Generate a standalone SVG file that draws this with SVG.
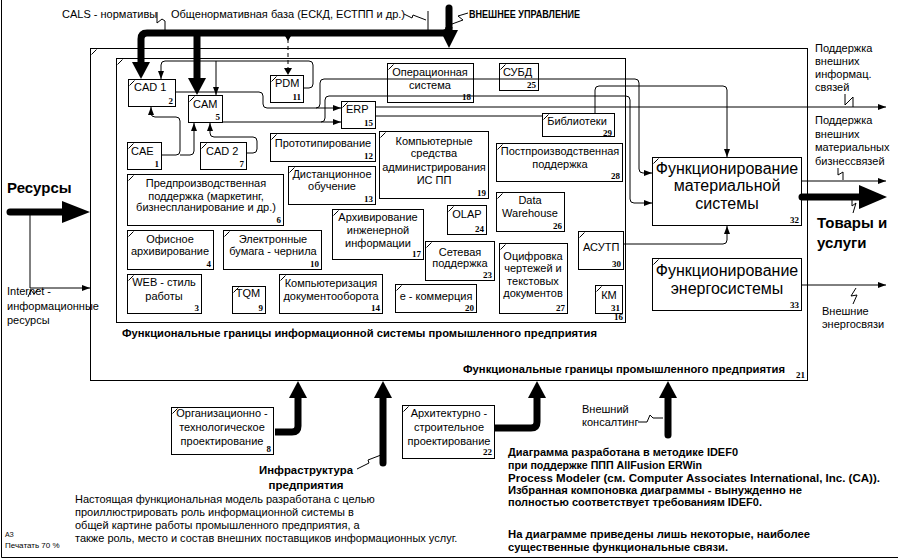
<svg xmlns="http://www.w3.org/2000/svg" width="898" height="559" viewBox="0 0 898 559">
<defs>
<style>
.b{fill:none;stroke:#000;stroke-width:1}
.k{fill:none;stroke:#000;stroke-width:1}
.t{font-family:"Liberation Sans",Arial,sans-serif;font-size:11px;fill:#000}
.m{text-anchor:middle}
.big{font-size:16px}
.bd{font-weight:bold}
.n{font-family:"Liberation Serif","Times New Roman",serif;font-size:9px;font-weight:bold;text-anchor:end;fill:#000}
.ln{fill:none;stroke:#000;stroke-width:1}
.th{fill:none;stroke:#000;stroke-width:7}
.ds{fill:none;stroke:#000;stroke-width:1;stroke-dasharray:4 3}
.ah{fill:#000;stroke:none}
</style>
<marker id="a" markerWidth="8" markerHeight="6" refX="8" refY="3" orient="auto" markerUnits="userSpaceOnUse"><path d="M0,0L8,3L0,6z" fill="#000"/></marker>
</defs>
<rect x="0" y="0" width="898" height="559" fill="#fff"/>
<path class="k" d="M1.5,0V557.5H898"/>

<g id="n21"><rect class="b" x="90.5" y="48.5" width="717" height="332"/><path class="k" d="M91.5,54.5L96.5,49.5"/><text class="t bd" x="463" y="373" textLength="322" lengthAdjust="spacingAndGlyphs">Функциональные границы промышленного предприятия</text><text class="n" x="805" y="378">21</text></g>
<g id="n16"><rect class="b" x="116.5" y="58.5" width="509" height="264"/><path class="k" d="M117.5,64.5L122.5,59.5"/><text class="t bd" x="122" y="337" textLength="475" lengthAdjust="spacingAndGlyphs">Функциональные границы информационной системы промышленного предприятия</text><text class="n" x="623" y="320">16</text></g>

<g id="n2"><rect class="b" x="128.5" y="79.5" width="47" height="27"/><path class="k" d="M129.5,85.5L134.5,80.5"/><text class="t" x="134" y="91">CAD 1</text><text class="n" x="173" y="104">2</text></g>
<g id="n5"><rect class="b" x="188.5" y="95.5" width="34" height="27"/><path class="k" d="M189.5,101.5L194.5,96.5"/><text class="t" x="193" y="108">CAM</text><text class="n" x="220" y="120">5</text></g>
<g id="n11"><rect class="b" x="270.5" y="75.5" width="33" height="27"/><path class="k" d="M271.5,81.5L276.5,76.5"/><text class="t" x="275" y="87">PDM</text><text class="n" x="301" y="100">11</text></g>
<g id="n15"><rect class="b" x="341.5" y="101.5" width="34" height="27"/><path class="k" d="M342.5,107.5L347.5,102.5"/><text class="t" x="346" y="113">ERP</text><text class="n" x="373" y="126">15</text></g>
<g id="n18"><rect class="b" x="387.5" y="63.5" width="86" height="39"/><path class="k" d="M388.5,69.5L393.5,64.5"/><text class="t m" x="430" y="76">Операционная</text><text class="t m" x="430" y="89">система</text><text class="n" x="471" y="100">18</text></g>
<g id="n25"><rect class="b" x="499.5" y="63.5" width="39" height="27"/><path class="k" d="M500.5,69.5L505.5,64.5"/><text class="t" x="503" y="76">СУБД</text><text class="n" x="536" y="88">25</text></g>
<g id="n29"><rect class="b" x="542.5" y="113.5" width="72" height="23"/><path class="k" d="M543.5,119.5L548.5,114.5"/><text class="t m" x="577" y="125">Библиотеки</text><text class="n" x="612" y="135.5">29</text></g>
<g id="n28"><rect class="b" x="496.5" y="143.5" width="126" height="38"/><path class="k" d="M497.5,149.5L502.5,144.5"/><text class="t m" x="560" y="155">Постпроизводственная</text><text class="t m" x="560" y="168">поддержка</text><text class="n" x="620" y="179">28</text></g>
<g id="n32"><rect class="b" x="652.5" y="157.5" width="149" height="68"/><path class="k" d="M653.5,163.5L658.5,158.5"/><text class="t m big" x="727" y="174">Функционирование</text><text class="t m big" x="727" y="191">материальной</text><text class="t m big" x="727" y="209">системы</text><text class="n" x="799" y="223">32</text></g>
<g id="n26"><rect class="b" x="496.5" y="192.5" width="68" height="39"/><path class="k" d="M497.5,198.5L502.5,193.5"/><text class="t m" x="530" y="204">Data</text><text class="t m" x="530" y="217">Warehouse</text><text class="n" x="562" y="229">26</text></g>
<g id="n30"><rect class="b" x="578.5" y="231.5" width="45" height="38"/><path class="k" d="M579.5,237.5L584.5,232.5"/><text class="t" x="583" y="251">АСУТП</text><text class="n" x="621" y="267">30</text></g>
<g id="n31"><rect class="b" x="595.5" y="285.5" width="27" height="28"/><path class="k" d="M596.5,291.5L601.5,286.5"/><text class="t m" x="609" y="299">КМ</text><text class="n" x="620" y="311">31</text></g>
<g id="n27"><rect class="b" x="499.5" y="243.5" width="68" height="70"/><path class="k" d="M500.5,249.5L505.5,244.5"/><text class="t m" x="533" y="260">Оцифровка</text><text class="t m" x="533" y="272">чертежей и</text><text class="t m" x="533" y="285">текстовых</text><text class="t m" x="533" y="297">документов</text><text class="n" x="565" y="311">27</text></g>
<g id="n33"><rect class="b" x="652.5" y="258.5" width="149" height="52"/><path class="k" d="M653.5,264.5L658.5,259.5"/><text class="t m big" x="727" y="276">Функционирование</text><text class="t m big" x="727" y="294">энергосистемы</text><text class="n" x="799" y="308">33</text></g>
<g id="n23"><rect class="b" x="425.5" y="241.5" width="69" height="39"/><path class="k" d="M426.5,247.5L431.5,242.5"/><text class="t m" x="460" y="256">Сетевая</text><text class="t m" x="460" y="267">поддержка</text><text class="n" x="492" y="278">23</text></g>
<g id="n24"><rect class="b" x="447.5" y="205.5" width="39" height="29"/><path class="k" d="M448.5,211.5L453.5,206.5"/><text class="t m" x="467" y="218">OLAP</text><text class="n" x="484" y="232">24</text></g>
<g id="n20"><rect class="b" x="395.5" y="284.5" width="81" height="28"/><path class="k" d="M396.5,290.5L401.5,285.5"/><text class="t m" x="436" y="300">е - коммерция</text><text class="n" x="474" y="311">20</text></g>
<g id="n17"><rect class="b" x="332.5" y="209.5" width="91" height="50"/><path class="k" d="M333.5,215.5L338.5,210.5"/><text class="t m" x="378" y="221">Архивирование</text><text class="t m" x="378" y="234">инженерной</text><text class="t m" x="378" y="247">информации</text><text class="n" x="421" y="257">17</text></g>
<g id="n19"><rect class="b" x="379.5" y="131.5" width="109" height="67"/><path class="k" d="M380.5,137.5L385.5,132.5"/><text class="t m" x="434" y="145">Компьютерные</text><text class="t m" x="434" y="157">средства</text><text class="t m" x="434" y="171">администрирования</text><text class="t m" x="434" y="184">ИС ПП</text><text class="n" x="486" y="196">19</text></g>
<g id="n12"><rect class="b" x="270.5" y="133.5" width="105" height="28"/><path class="k" d="M271.5,139.5L276.5,134.5"/><text class="t m" x="323" y="147">Прототипирование</text><text class="n" x="373" y="159">12</text></g>
<g id="n13"><rect class="b" x="288.5" y="166.5" width="87" height="38"/><path class="k" d="M289.5,172.5L294.5,167.5"/><text class="t m" x="332" y="178">Дистанционное</text><text class="t m" x="332" y="190">обучение</text><text class="n" x="373" y="202">13</text></g>
<g id="n1"><rect class="b" x="127.5" y="142.5" width="34" height="27"/><path class="k" d="M128.5,148.5L133.5,143.5"/><text class="t" x="131" y="155">CAE</text><text class="n" x="159" y="167">1</text></g>
<g id="n7"><rect class="b" x="200.5" y="142.5" width="46" height="27"/><path class="k" d="M201.5,148.5L206.5,143.5"/><text class="t" x="206" y="155">CAD 2</text><text class="n" x="244" y="167">7</text></g>
<g id="n6"><rect class="b" x="127.5" y="174.5" width="156" height="51"/><path class="k" d="M128.5,180.5L133.5,175.5"/><text class="t m" x="206" y="187">Предпроизводственная</text><text class="t m" x="206" y="200">поддержка (маркетинг,</text><text class="t m" x="206" y="211">бизнеспланирование и др.)</text><text class="n" x="281" y="223">6</text></g>
<g id="n4"><rect class="b" x="127.5" y="230.5" width="86" height="39"/><path class="k" d="M128.5,236.5L133.5,231.5"/><text class="t m" x="170" y="243">Офисное</text><text class="t m" x="170" y="255">архивирование</text><text class="n" x="211" y="267">4</text></g>
<g id="n10"><rect class="b" x="223.5" y="230.5" width="98" height="39"/><path class="k" d="M224.5,236.5L229.5,231.5"/><text class="t m" x="273" y="243">Электронные</text><text class="t m" x="273" y="255">бумага - чернила</text><text class="n" x="319" y="267">10</text></g>
<g id="n3"><rect class="b" x="127.5" y="274.5" width="74" height="39"/><path class="k" d="M128.5,280.5L133.5,275.5"/><text class="t m" x="164" y="286">WEB - стиль</text><text class="t m" x="164" y="300">работы</text><text class="n" x="199" y="311">3</text></g>
<g id="n9"><rect class="b" x="232.5" y="286.5" width="33" height="27"/><path class="k" d="M233.5,292.5L238.5,287.5"/><text class="t m" x="248" y="297">TQM</text><text class="n" x="263" y="311">9</text></g>
<g id="n14"><rect class="b" x="279.5" y="274.5" width="103" height="39"/><path class="k" d="M280.5,280.5L285.5,275.5"/><text class="t m" x="331" y="287">Компьютеризация</text><text class="t m" x="331" y="300">документооборота</text><text class="n" x="380" y="311">14</text></g>
<g id="n8"><rect class="b" x="171.5" y="407.5" width="102" height="47"/><path class="k" d="M172.5,413.5L177.5,408.5"/><text class="t m" x="222" y="417">Организационно -</text><text class="t m" x="222" y="431">технологическое</text><text class="t m" x="222" y="445">проектирование</text><text class="n" x="271" y="452">8</text></g>
<g id="n22"><rect class="b" x="402.5" y="405.5" width="92" height="53"/><path class="k" d="M403.5,411.5L408.5,406.5"/><text class="t m" x="449" y="417">Архитектурно -</text><text class="t m" x="449" y="431">строительное</text><text class="t m" x="449" y="445">проектирование</text><text class="n" x="492" y="455">22</text></g>

<g id="connectors">
<path class="th" d="M449,27Q449,33 443,33H147Q141,33 141,39V63"/>
<polygon class="ah" points="132,62 150,62 141,79"/>
<path class="th" d="M197,33V80"/>
<polygon class="ah" points="188,78 206,78 197,95"/>
<path class="th" d="M449,8V31" stroke-linecap="round"/>
<polygon class="ah" points="440,30 458,30 449,48"/>
<path class="ln" d="M157,12V23L162,19L165,21V30"/>
<path class="ln" d="M428,11V30"/>
<path class="ln" d="M404,14L412,18L413,15L426,20"/>
<path class="ln" d="M468,13L458,16L463,20L452,24"/>
<path class="ds" d="M288,39V68"/>
<polygon class="ah" points="285,36 291,36 288,41"/>
<polygon class="ah" points="284,68 292,68 288,75"/>
<path class="ln" d="M304,88H309Q313,88 313,84V65Q313,61 309,61H165Q161,61 161,65V79" marker-end="url(#a)"/>
<path class="ln" d="M216,61V95" marker-end="url(#a)"/>
<path class="ln" d="M176,92H259Q263,92 263,96V104Q263,108 267,108H341" marker-end="url(#a)"/>
<path class="ln" d="M316,108Q320,108 320,104V83Q320,79 324,79H635Q639,79 639,83V169Q639,173 643,173H652" marker-end="url(#a)"/>
<path class="ln" d="M223,122H341" marker-end="url(#a)"/>
<path class="ln" d="M321,122Q325,122 325,118V100Q325,96 329,96H626Q630,96 630,100V199Q630,203 634,203H652" marker-end="url(#a)"/>
<path class="ln" d="M376,107H886" marker-end="url(#a)"/>
<path class="ln" d="M376,116H542"/>
<path class="ln" d="M595,113V90Q595,86 599,86H723Q727,86 727,90V157" marker-end="url(#a)"/>
<path class="ln" d="M162,155H176Q180,155 180,151V121Q180,117 176,117H155Q151,117 151,113V107" marker-end="url(#a)"/>
<path class="ln" d="M180,155H190Q194,155 194,151V123" marker-end="url(#a)"/>
<path class="ln" d="M247,153H253Q257,153 257,149V141Q257,137 253,137H214Q210,137 210,133V123" marker-end="url(#a)"/>
<path class="ln" d="M624,244H723Q727,244 727,240V226" marker-end="url(#a)"/>
<path class="ln" d="M802,181H886" marker-end="url(#a)"/>
<path class="th" d="M802,197H861" stroke-linecap="round"/>
<polygon class="ah" points="859,185 859,209 887,197"/>
<path class="ln" d="M802,285H886" marker-end="url(#a)"/>
<path class="ln" d="M845,94V105L853,97V107"/>
<path class="ln" d="M838,168V175L843,172V180"/>
<path class="ln" d="M852,198V206L856,203L853,213"/>
<path class="ln" d="M856,288L851,296L857,295L853,304"/>
<path class="th" d="M10,212H64" stroke-linecap="round"/>
<polygon class="ah" points="62,201 62,223 90,212"/>
<path class="ln" d="M30,212V288H90" marker-end="url(#a)"/>
<circle cx="30" cy="213" r="1.8" fill="#000"/>
<path class="ln" d="M28,297L31,290L34,294L38,289"/>
<path class="th" d="M275,432H292Q298,432 298,426V397"/>
<polygon class="ah" points="289,398 307,398 298,381"/>
<path class="th" d="M383,463V397" stroke-linecap="round"/>
<polygon class="ah" points="374,398 392,398 383,381"/>
<path class="ln" d="M357,469L369,463L368,460L381,455"/>
<path class="th" d="M495,428H531Q537,428 537,422V397"/>
<polygon class="ah" points="528,398 546,398 537,381"/>
<path class="th" d="M668,435V397" stroke-linecap="round"/>
<polygon class="ah" points="659,398 677,398 668,381"/>
<path class="ln" d="M638,422H647L650,415L653,418H663"/>
</g>

<g id="labels">
<text class="t" x="62" y="18">CALS - нормативы</text>
<text class="t" x="171" y="18">Общенормативная база (ЕСКД, ЕСТПП и др.)</text>
<text class="t bd" x="469" y="18" textLength="111" lengthAdjust="spacingAndGlyphs">ВНЕШНЕЕ УПРАВЛЕНИЕ</text>
<text class="t" x="815" y="52">Поддержка</text>
<text class="t" x="815" y="65">внешних</text>
<text class="t" x="815" y="78">информац.</text>
<text class="t" x="815" y="91">связей</text>
<text class="t" x="815" y="124">Поддержка</text>
<text class="t" x="815" y="138">внешних</text>
<text class="t" x="815" y="151">материальных</text>
<text class="t" x="815" y="165">бизнессвязей</text>
<text class="t bd" x="817" y="228" style="font-size:15px">Товары и</text>
<text class="t bd" x="817" y="248" style="font-size:15px">услуги</text>
<text class="t" x="822" y="315">Внешние</text>
<text class="t" x="822" y="328">энергосвязи</text>
<text class="t bd" x="7" y="193" style="font-size:15px">Ресурсы</text>
<text class="t" x="7" y="295">Internet -</text>
<text class="t" x="7" y="310">информационные</text>
<text class="t" x="7" y="324">ресурсы</text>
<text class="t bd m" x="306" y="474" textLength="94" lengthAdjust="spacingAndGlyphs">Инфраструктура</text>
<text class="t bd m" x="306" y="489" textLength="75" lengthAdjust="spacingAndGlyphs">предприятия</text>
<text class="t" x="582" y="413">Внешний</text>
<text class="t" x="582" y="426">консалтинг</text>
<text class="t" x="75" y="503">Настоящая функциональная модель  разработана с целью</text>
<text class="t" x="75" y="516">проиллюстрировать роль информационной системы в</text>
<text class="t" x="75" y="529">общей картине работы промышленного предприятия, а</text>
<text class="t" x="75" y="542">также роль, место и состав  внешних поставщиков информационных услуг.</text>
<text class="t bd" x="508" y="456" textLength="230" lengthAdjust="spacingAndGlyphs">Диаграмма разработана в методике IDEF0</text>
<text class="t bd" x="508" y="469" textLength="194" lengthAdjust="spacingAndGlyphs">при поддержке ППП AllFusion ERWin</text>
<text class="t bd" x="508" y="482" textLength="372" lengthAdjust="spacingAndGlyphs">Process Modeler (см. Computer Associates International, Inc. (CA)).</text>
<text class="t bd" x="508" y="494" textLength="294" lengthAdjust="spacingAndGlyphs">Избранная компоновка диаграммы - вынужденно не</text>
<text class="t bd" x="508" y="506" textLength="254" lengthAdjust="spacingAndGlyphs">полностью соответствует требованиям IDEF0.</text>
<text class="t bd" x="508" y="538" textLength="302" lengthAdjust="spacingAndGlyphs">На диаграмме приведены лишь некоторые, наиболее</text>
<text class="t bd" x="508" y="551" textLength="220" lengthAdjust="spacingAndGlyphs">существенные функциональные связи.</text>
<text class="t" x="5" y="537" style="font-size:7px">АЗ</text>
<text class="t" x="5" y="548" style="font-size:8px">Печатать 70 %</text>
</g>
</svg>
